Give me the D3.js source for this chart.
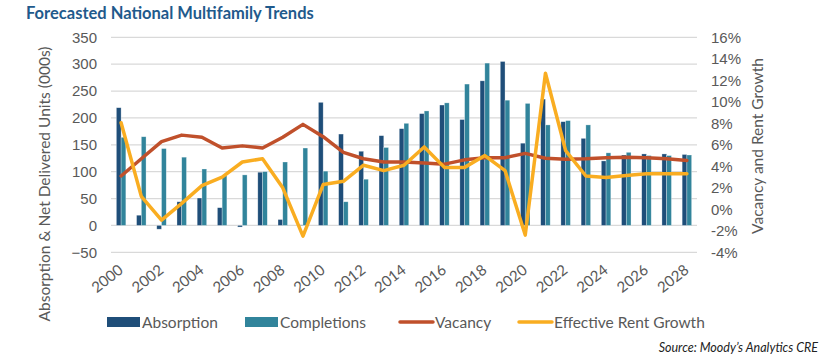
<!DOCTYPE html>
<html>
<head>
<meta charset="utf-8">
<script src="https://cdn.jsdelivr.net/npm/d3@7"></script>
<style>
  html, body { margin: 0; padding: 0; background: #fff; }
  svg { display: block; font-family: "Source Sans Pro", Lato, "Open Sans", sans-serif; }
</style>
</head>
<body>
<svg id="chart" width="834" height="360"></svg>
<script>
const years = d3.range(2000, 2029);
const absorption = [219, 19, -7, 44, 51, 33, -3, 99, 11, 1, 229, 170, 138, 167, 180, 208, 224, 197, 269, 305, 153, 235, 193, 162, 120, 131, 133, 133, 132];
const completions = [164, 165, 143, 127, 105, 93, 94, 100, 118, 144, 101, 44, 86, 145, 190, 213, 228, 263, 302, 233, 227, 187, 195, 187, 135, 136, 130, 130, 131];
const vacancy = [3.1, 4.7, 6.3, 6.9, 6.7, 5.7, 5.9, 5.7, 6.7, 7.9, 6.75, 5.3, 4.7, 4.4, 4.4, 4.3, 4.2, 4.6, 4.8, 4.8, 5.2, 4.75, 4.65, 4.7, 4.8, 4.85, 4.8, 4.7, 4.55];
const rentGrowth = [8.05, 1.2, -1.0, 0.55, 2.2, 3.0, 4.4, 4.7, 2.0, -2.5, 2.3, 2.6, 4.1, 3.6, 4.1, 5.8, 3.9, 3.9, 5.0, 3.6, -2.4, 12.65, 5.45, 3.1, 2.95, 3.15, 3.3, 3.3, 3.3];
const leftTicks = [-50, 0, 50, 100, 150, 200, 250, 300, 350];
const rightTicks = [-4, -2, 0, 2, 4, 6, 8, 10, 12, 14, 16];
const xTickYears = years.filter(y => y % 2 === 0);

const C = { abs: "#1f4e79", comp: "#31849b", vac: "#c0502b", rent: "#f9ad21", grid: "#d9d9d9", text: "#595959", title: "#1f5a8c" };

const svg = d3.select("#chart");
const L = 111, R = 697, T = 37.3, B = 252.3;

const x0 = d3.scaleBand().domain(years).range([L, R]).paddingInner(0.53).paddingOuter(0.265);
const x1 = d3.scaleBand().domain(["abs", "comp"]).range([0, x0.bandwidth()]);
const cx = d => x0(d) + x0.bandwidth() / 2;
const yL = d3.scaleLinear().domain([-50, 350]).range([B, T]);
const yR = d3.scaleLinear().domain([-4, 16]).range([B, T]);

// Title
svg.append("text").attr("x", 26).attr("y", 19).attr("fill", C.title)
  .attr("font-weight", 700).attr("font-size", 16.5).text("Forecasted National Multifamily Trends");

// Gridlines
svg.append("g").selectAll("line").data(leftTicks).join("line")
  .attr("x1", L).attr("x2", R).attr("y1", d => yL(d)).attr("y2", d => yL(d))
  .attr("stroke", C.grid).attr("stroke-width", 1.3);

// Left axis
const gL = svg.append("g").attr("transform", `translate(${L - 14},0)`)
  .call(d3.axisLeft(yL).tickValues(leftTicks).tickSize(0).tickPadding(0));
gL.select(".domain").remove();
gL.selectAll("text").attr("fill", C.text).attr("font-size", 15).attr("font-family", null);

// Right axis
const gR = svg.append("g").attr("transform", `translate(${R + 14},0)`)
  .call(d3.axisRight(yR).tickValues(rightTicks).tickSize(0).tickPadding(0).tickFormat(d => d + "%"));
gR.select(".domain").remove();
gR.selectAll("text").attr("fill", C.text).attr("font-size", 15).attr("font-family", null);

// X labels
svg.append("g").selectAll("text").data(xTickYears).join("text")
  .attr("transform", d => `translate(${cx(d) + 3},${272}) rotate(-38)`)
  .attr("text-anchor", "end").attr("fill", C.text).attr("font-size", 15).text(d => d);

// Axis titles
svg.append("text").attr("transform", `translate(50,184) rotate(-90)`)
  .attr("text-anchor", "middle").attr("fill", C.text).attr("font-size", 15.5)
  .text("Absorption & Net Delivered Units (000s)");
svg.append("text").attr("transform", `translate(763,146) rotate(-90)`)
  .attr("text-anchor", "middle").attr("fill", C.text).attr("font-size", 15.5)
  .text("Vacancy and Rent Growth");

// Bars
const series = [{ key: "abs", vals: absorption, color: C.abs }, { key: "comp", vals: completions, color: C.comp }];
series.forEach(s => {
  svg.append("g").selectAll("rect").data(years).join("rect")
    .attr("x", (d) => x0(d) + x1(s.key))
    .attr("width", x1.bandwidth())
    .attr("y", (d, i) => Math.min(yL(s.vals[i]), yL(0)))
    .attr("height", (d, i) => Math.abs(yL(s.vals[i]) - yL(0)))
    .attr("fill", s.color).attr("stroke", "#ffffff").attr("stroke-opacity", 0.5).attr("stroke-width", 0.6);
});

// Lines
const lineGen = vals => d3.line().x((d, i) => cx(years[i])).y(d => yR(d))(vals);
svg.append("path").attr("d", lineGen(vacancy)).attr("fill", "none")
  .attr("stroke", C.vac).attr("stroke-width", 3.5).attr("stroke-linejoin", "round").attr("stroke-linecap", "round");
svg.append("path").attr("d", lineGen(rentGrowth)).attr("fill", "none")
  .attr("stroke", C.rent).attr("stroke-width", 3.5).attr("stroke-linejoin", "round").attr("stroke-linecap", "round");

// Legend
const lg = svg.append("g");
const legendItems = [
  { label: "Absorption", type: "rect", color: C.abs, x: 107 },
  { label: "Completions", type: "rect", color: C.comp, x: 245 },
  { label: "Vacancy", type: "line", color: C.vac, x: 400 },
  { label: "Effective Rent Growth", type: "line", color: C.rent, x: 519 }
];
legendItems.forEach(it => {
  if (it.type === "rect") {
    lg.append("rect").attr("x", it.x).attr("y", 317).attr("width", 33).attr("height", 10).attr("fill", it.color);
  } else {
    lg.append("line").attr("x1", it.x).attr("x2", it.x + 33).attr("y1", 322).attr("y2", 322)
      .attr("stroke", it.color).attr("stroke-width", 3.5).attr("stroke-linecap", "round");
  }
  lg.append("text").attr("x", it.x + 35).attr("y", 327.5).attr("fill", C.text).attr("font-size", 15.5).text(it.label);
});

// Source
svg.append("text").attr("x", 818).attr("y", 352).attr("text-anchor", "end")
  .attr("font-style", "italic").attr("font-size", 12.5).attr("fill", "#222")
  .text("Source: Moody’s Analytics CRE");
</script>
</body>
</html>
